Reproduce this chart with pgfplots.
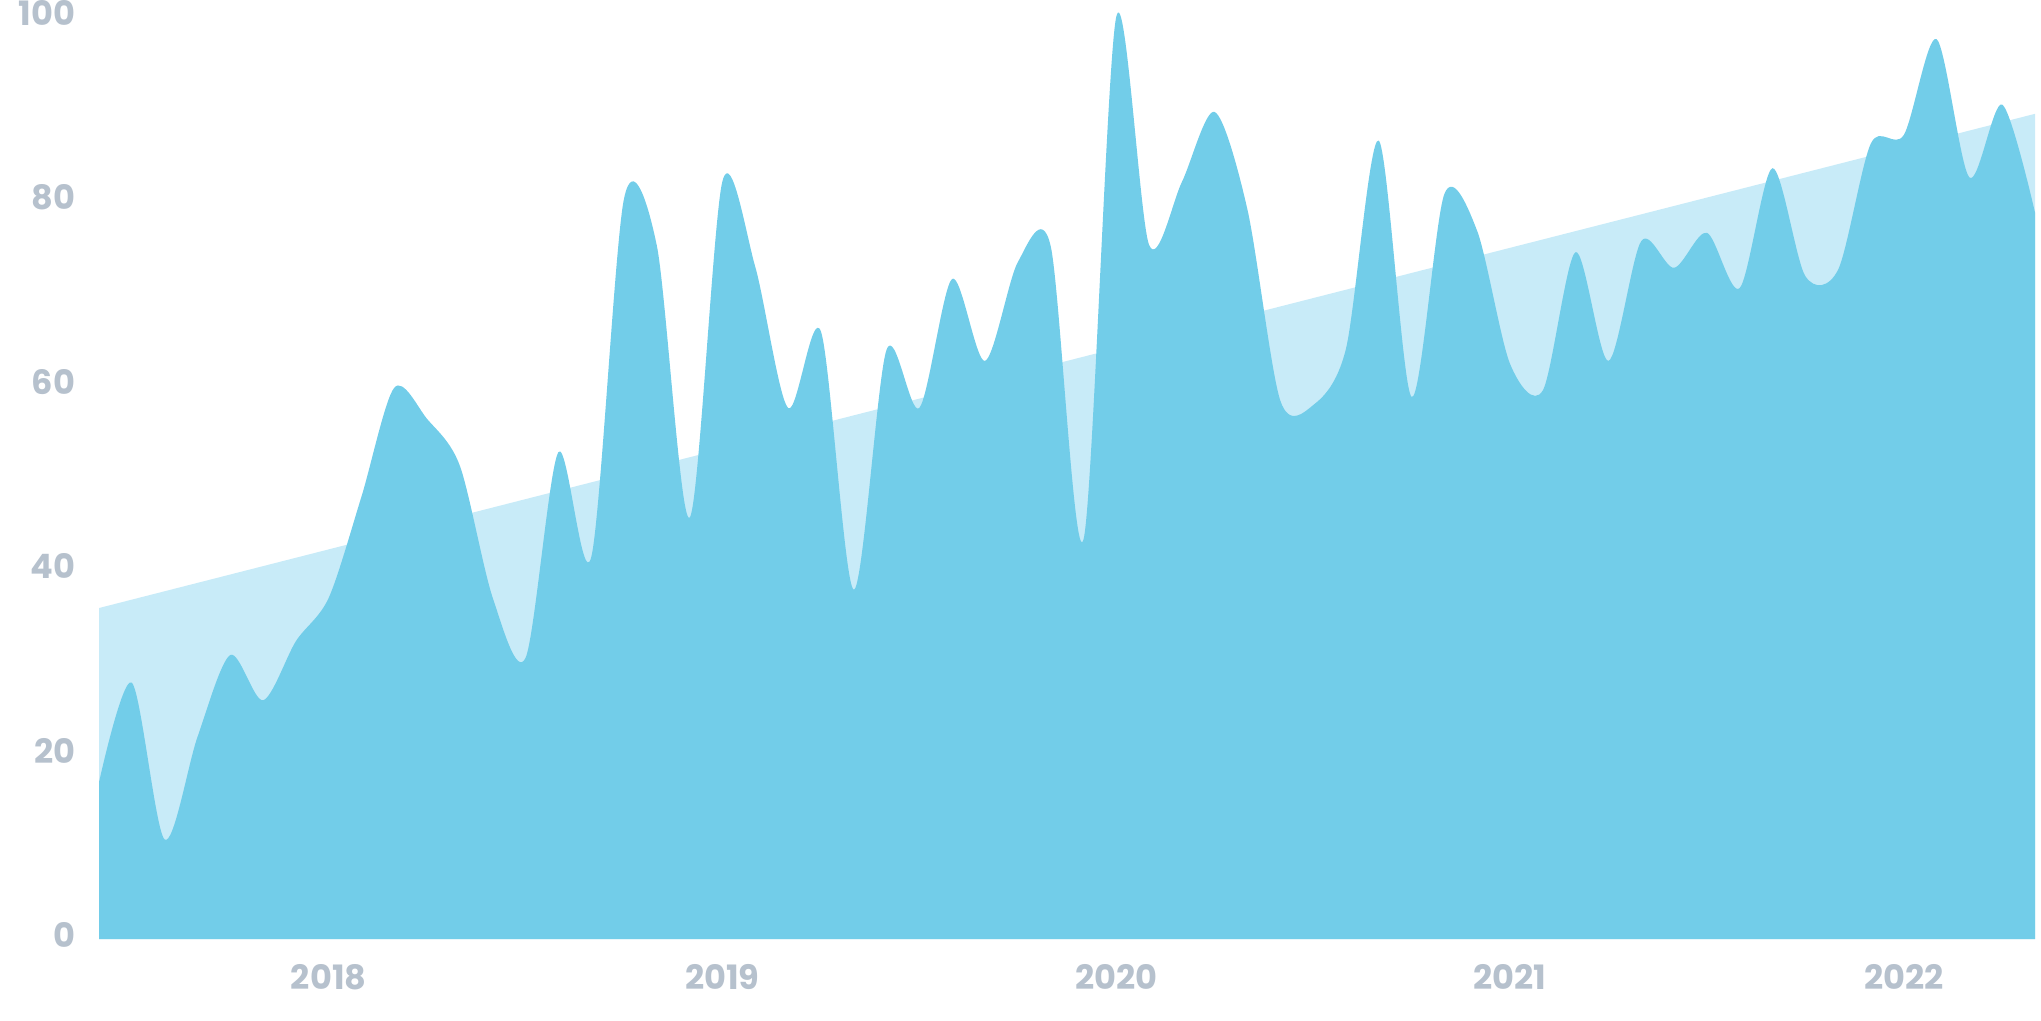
\documentclass[border=0pt]{standalone}
\usepackage{fontspec}
\setmainfont{Poppins}
\usepackage{pgfplots}
\pgfplotsset{compat=1.18}
\definecolor{mainblue}{RGB}{114,205,233}
\definecolor{trendblue}{RGB}{200,235,248}
\definecolor{labelgrey}{RGB}{182,193,205}
\begin{document}
\begin{tikzpicture}
\useasboundingbox (-24.75pt,-20.25pt) rectangle (485.5pt,234.75pt);
\begin{axis}[
  at={(0,0)}, anchor=south west,
  scale only axis,
  width=484pt, height=230.5pt,
  xmin=0, xmax=59, ymin=0, ymax=100,
  axis line style={draw=none},
  major tick length=0pt,
  xtick={7,19,31,43,55},
  xticklabels={2018,2019,2020,2021,2022},
  ytick={0,20,40,60,80,100},
  /pgf/number format/assume math mode=true,
  tick label style={font=\fontsize{8.4}{10}\selectfont\bfseries, text=labelgrey, inner sep=0pt},
  xticklabel style={anchor=center, yshift=-9.5pt},
  yticklabel style={anchor=east, xshift=-5.75pt, yshift=1pt},
  clip=false,
]
\addplot[fill=trendblue, draw=none] coordinates {(0,35.9) (59,89.5)} \closedcycle;
\addplot[fill=mainblue, draw=none, smooth] coordinates {
(0,17.0) (1,27.8) (2,10.8) (3,21.9) (4,30.8) (5,25.9) (6,32.3) (7,37.0) (8,48.0) (9,59.8)
(10,56.4) (11,51.3) (12,37.0) (13,30.5) (14,52.8) (15,41.4) (16,80.3) (17,75.2) (18,45.7) (19,82.2)
(20,72.9) (21,57.6) (22,65.9) (23,37.9) (24,63.9) (25,57.6) (26,71.6) (27,62.7) (28,73.4) (29,75.2)
(30,43.3) (31,100) (32,75.3) (33,82.1) (34,89.7) (35,79.1) (36,58.4) (37,57.9) (38,64.0) (39,86.6)
(40,58.8) (41,80.8) (42,76.8) (43,62.4) (44,59.5) (45,74.5) (46,62.7) (47,75.7) (48,72.8) (49,76.6)
(50,70.6) (51,83.6) (52,71.9) (53,72.6) (54,86.3) (55,87.2) (56,97.6) (57,82.6) (58,90.5) (59,78.8)
} \closedcycle;
\end{axis}
\end{tikzpicture}
\end{document}
